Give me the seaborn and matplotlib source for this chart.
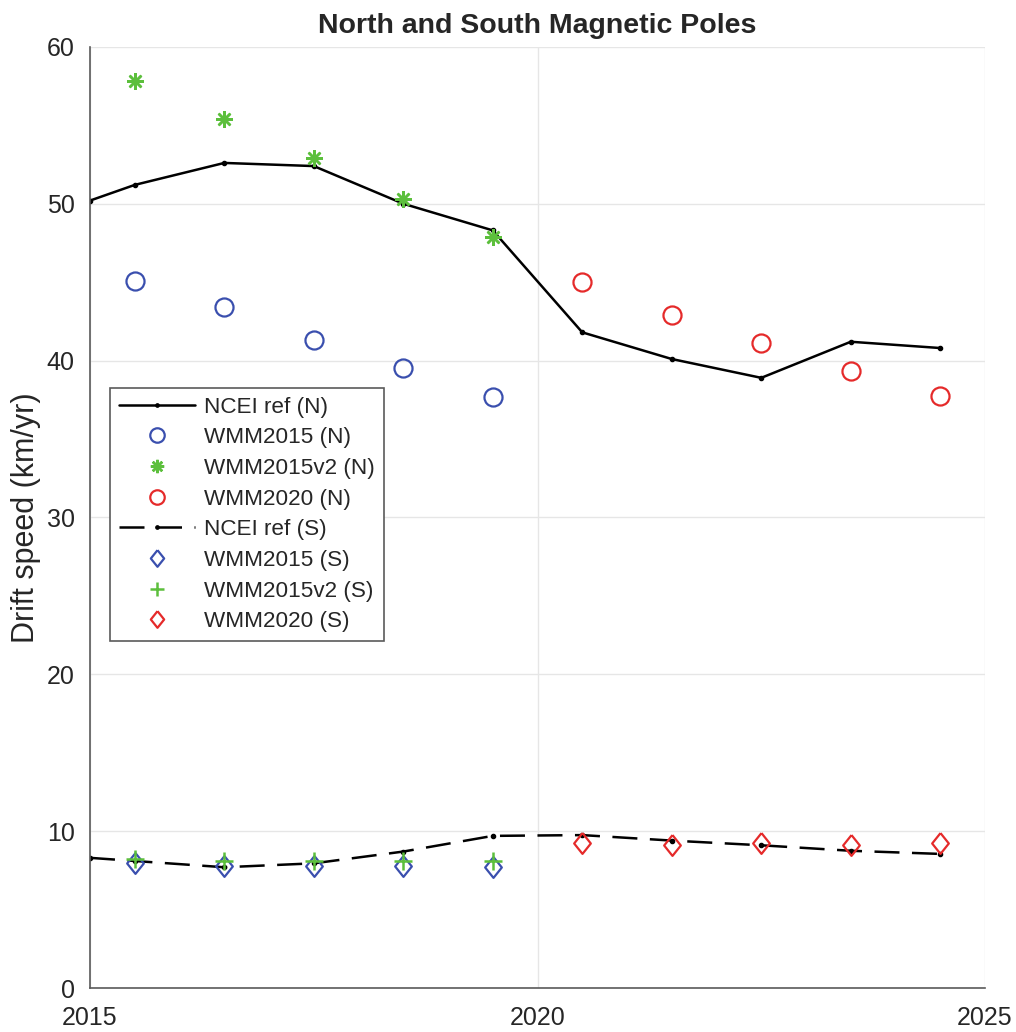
import matplotlib
matplotlib.use("Agg")
import matplotlib.pyplot as plt
import seaborn as sns

# Years (mid-year epochs)
ref_years = [2015.0, 2015.5, 2016.5, 2017.5, 2018.5, 2019.5, 2020.5, 2021.5, 2022.5, 2023.5, 2024.5]
years_2015 = [2015.5, 2016.5, 2017.5, 2018.5, 2019.5]
years_2020 = [2020.5, 2021.5, 2022.5, 2023.5, 2024.5]

# North pole drift speeds (km/yr)
ncei_n = [50.2, 51.2, 52.6, 52.4, 50.0, 48.3, 41.8, 40.1, 38.9, 41.2, 40.8]
wmm2015_n = [45.1, 43.4, 41.3, 39.5, 37.7]
wmm2015v2_n = [57.8, 55.4, 52.9, 50.3, 47.9]
wmm2020_n = [45.0, 42.9, 41.1, 39.35, 37.75]

# South pole drift speeds (km/yr)
ncei_s = [8.3, 8.1, 7.7, 7.95, 8.7, 9.7, 9.75, 9.4, 9.1, 8.75, 8.55]
wmm2015_s = [8.0, 7.8, 7.8, 7.8, 7.7]
wmm2015v2_s = [8.2, 8.1, 8.1, 8.1, 8.1]
wmm2020_s = [9.25, 9.1, 9.25, 9.15, 9.25]

blue = "#3a4fae"
green = "#5cbf3c"
red = "#e52a2a"

# MATLAB-style diamond (a bit taller than wide)
diamond = [(0, 1), (0.8, 0), (0, -1), (-0.8, 0), (0, 1)]

sns.set_style("white")
plt.rcParams["font.family"] = ["Liberation Sans", "DejaVu Sans"]

fig = plt.figure(figsize=(10.16, 10.32), dpi=100)
ax = fig.add_axes([0.0886, 0.0426, 0.8809, 0.912])

sns.lineplot(x=ref_years, y=ncei_n, ax=ax, color="black", lw=1.8, marker=".",
             markersize=6, markeredgecolor="black", markeredgewidth=1, label="NCEI ref (N)")
sns.lineplot(x=years_2015, y=wmm2015_n, ax=ax, linestyle="", marker="o", markersize=13,
             markerfacecolor="none", markeredgecolor=blue, markeredgewidth=1.6, label="WMM2015 (N)")
sns.lineplot(x=years_2015, y=wmm2015v2_n, ax=ax, linestyle="", marker=(8, 2, 0), markersize=12,
             markeredgecolor=green, markeredgewidth=1.8, color=green, label="WMM2015v2 (N)")
sns.lineplot(x=years_2020, y=wmm2020_n, ax=ax, linestyle="", marker="o", markersize=13,
             markerfacecolor="none", markeredgecolor=red, markeredgewidth=1.6, label="WMM2020 (N)")
sns.lineplot(x=ref_years, y=ncei_s, ax=ax, color="black", lw=1.8, dashes=(10, 5), marker=".",
             markersize=6, markeredgecolor="black", markeredgewidth=1, label="NCEI ref (S)")
sns.lineplot(x=years_2015, y=wmm2015_s, ax=ax, linestyle="", marker=diamond, markersize=15,
             markerfacecolor="none", markeredgecolor=blue, markeredgewidth=1.6, label="WMM2015 (S)")
sns.lineplot(x=years_2015, y=wmm2015v2_s, ax=ax, linestyle="", marker="+", markersize=13,
             markeredgecolor=green, markeredgewidth=1.8, color=green, label="WMM2015v2 (S)")
sns.lineplot(x=years_2020, y=wmm2020_s, ax=ax, linestyle="", marker=diamond, markersize=15,
             markerfacecolor="none", markeredgecolor=red, markeredgewidth=1.6, label="WMM2020 (S)")

ax.set_xlim(2015, 2025)
ax.set_ylim(0, 60)
ax.set_xticks([2015, 2020, 2025])
ax.set_xticklabels(["2015", "2020", "2025"])
ax.set_yticks([0, 10, 20, 30, 40, 50, 60])
ax.grid(True, color="#e6e6e6", lw=1)
ax.set_axisbelow(True)
for side in ["top", "right"]:
    ax.spines[side].set_visible(False)
for side in ["left", "bottom"]:
    ax.spines[side].set_color("#5a5a5a")
    ax.spines[side].set_linewidth(1.2)
ax.tick_params(direction="in", length=8, width=1, colors="#5a5a5a", labelsize=18,
               labelcolor="#262626")
ax.tick_params(axis="y", pad=11)
ax.tick_params(axis="x", pad=13)

ax.set_title("North and South Magnetic Poles", fontsize=20.5, fontweight="bold", pad=10)
ax.set_ylabel("Drift speed (km/yr)", fontsize=22, labelpad=4, color="#262626")

leg = ax.legend(loc="upper left", bbox_to_anchor=(0.022, 0.638), fontsize=16.2,
                handlelength=3.4, frameon=True, fancybox=False, framealpha=1,
                edgecolor="#5a5a5a", borderpad=0.4, labelspacing=0.43, handletextpad=0.4,
                borderaxespad=0, markerscale=0.8)
leg.get_frame().set_linewidth(1.2)
for t in leg.get_texts():
    t.set_color("#262626")

fig.savefig("out.png", dpi=100)
